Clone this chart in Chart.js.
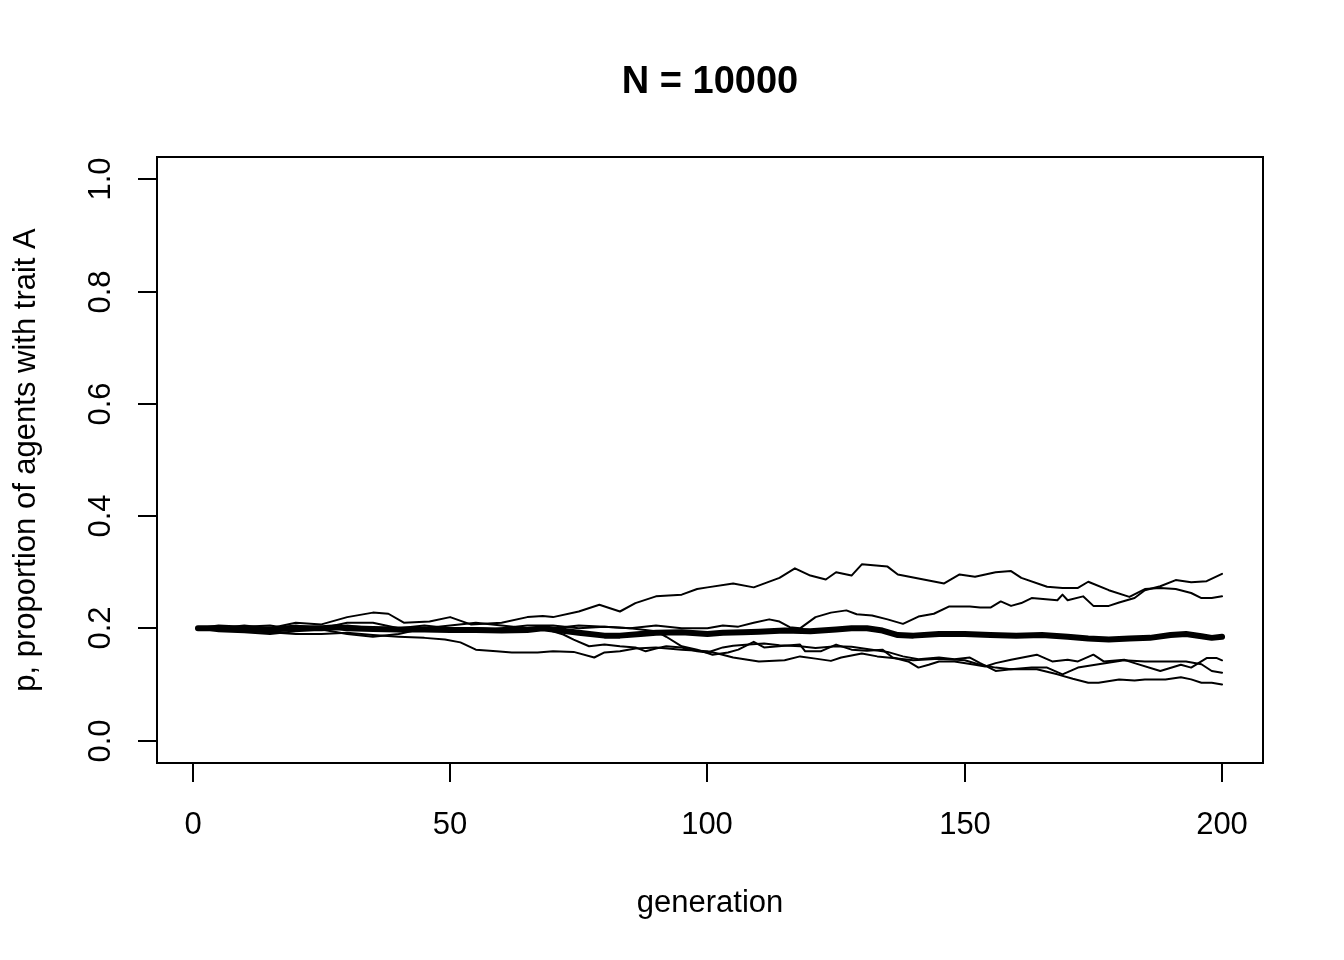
<!DOCTYPE html>
<html>
<head>
    <title>N = 10000</title>
    <style>
        body { margin: 0; background: white; }
        #chart { display: block; }
    </style>
</head>
<body>
    <canvas id="chart" width="1344" height="960"></canvas>

    <script src="https://cdn.jsdelivr.net/npm/chart.js"></script>
    <script>
        // values (generation, p)
        const gA = [1,5,10,15,20,25,30,35,38,41,46,50,54,60,65,68,70,75,79,83,86,90,95,98,100,105,109,114,117,120,123,125,128,130,135,137,141,146,149,152,156,159,161,166,169,172,174,178,182,185,188,191,194,196,198,200];
        const pA = [0.2,0.203,0.198,0.2,0.21,0.207,0.22,0.228,0.226,0.21,0.212,0.22,0.207,0.21,0.22,0.222,0.22,0.23,0.242,0.23,0.245,0.257,0.26,0.27,0.273,0.28,0.273,0.29,0.307,0.294,0.287,0.3,0.294,0.314,0.31,0.296,0.289,0.28,0.296,0.292,0.3,0.302,0.29,0.274,0.272,0.272,0.283,0.268,0.256,0.27,0.272,0.27,0.263,0.254,0.254,0.257];

        const gB = [1,5,10,15,20,25,30,35,40,45,50,55,60,65,70,75,80,85,90,95,100,103,106,109,112,114,116,118,121,124,127,129,132,135,138,141,144,147,151,153,155,157,159,161,163,168,169,170,173,175,178,180,183,185,188,191,194,197,200];
        const pB = [0.2,0.2,0.205,0.2,0.205,0.2,0.21,0.21,0.2,0.205,0.2,0.195,0.2,0.205,0.205,0.2,0.203,0.2,0.205,0.2,0.2,0.205,0.203,0.21,0.216,0.212,0.202,0.2,0.22,0.228,0.232,0.225,0.223,0.216,0.208,0.221,0.226,0.239,0.239,0.237,0.237,0.248,0.24,0.245,0.254,0.25,0.26,0.25,0.257,0.24,0.24,0.246,0.254,0.268,0.275,0.286,0.282,0.284,0.297];

        const gC = [1,5,10,15,20,25,30,35,40,45,50,55,60,65,70,75,80,85,90,92,95,98,101,104,106,109,111,115,118,119,122,125,128,131,134,136,139,141,143,145,148,152,154,156,159,164,167,170,172,175,177,181,183,188,192,194,197,199,200];
        const pC = [0.2,0.205,0.203,0.205,0.198,0.2,0.205,0.2,0.195,0.2,0.195,0.2,0.198,0.2,0.2,0.205,0.203,0.2,0.195,0.185,0.168,0.162,0.153,0.157,0.162,0.176,0.166,0.169,0.171,0.159,0.159,0.171,0.162,0.16,0.162,0.148,0.141,0.13,0.135,0.141,0.141,0.135,0.132,0.138,0.144,0.153,0.141,0.144,0.141,0.153,0.141,0.144,0.138,0.124,0.135,0.13,0.147,0.147,0.143];

        const gD = [1,5,10,15,20,25,30,35,40,45,50,55,60,65,68,72,74,77,80,83,86,88,90,92,95,98,100,103,105,108,111,114,118,121,125,128,131,135,138,141,145,148,151,153,156,159,163,166,169,172,176,181,185,189,193,196,198,200];
        const pD = [0.2,0.195,0.193,0.19,0.195,0.198,0.19,0.185,0.19,0.2,0.205,0.21,0.205,0.2,0.2,0.189,0.18,0.168,0.171,0.168,0.166,0.159,0.164,0.168,0.166,0.159,0.157,0.166,0.169,0.171,0.173,0.17,0.168,0.165,0.168,0.167,0.163,0.158,0.15,0.145,0.148,0.145,0.148,0.138,0.124,0.127,0.13,0.13,0.118,0.13,0.136,0.143,0.141,0.141,0.141,0.136,0.124,0.121];

        const gE = [1,5,10,15,20,25,30,35,40,45,49,52,55,59,62,67,70,74,78,80,83,86,90,95,100,102,105,110,115,118,121,124,126,130,133,136,140,145,150,153,156,159,164,168,171,174,176,180,183,185,189,192,194,196,198,200];
        const pE = [0.2,0.2,0.195,0.193,0.19,0.19,0.192,0.188,0.185,0.183,0.18,0.175,0.162,0.159,0.157,0.157,0.159,0.158,0.148,0.157,0.159,0.164,0.166,0.162,0.159,0.155,0.148,0.141,0.143,0.15,0.146,0.142,0.148,0.155,0.15,0.147,0.143,0.146,0.143,0.135,0.13,0.127,0.127,0.118,0.11,0.103,0.103,0.109,0.107,0.109,0.109,0.113,0.109,0.103,0.103,0.1];

        // thick line: mean over runs
        const gMean = [1,5,10,15,20,25,28,30,35,40,45,50,55,60,65,68,70,75,80,83,87,90,95,100,103,107,110,115,120,125,128,131,134,137,140,145,150,155,160,165,170,174,178,182,186,190,193,196,198,200];
        const pMean = [0.2,0.2,0.198,0.198,0.2,0.2,0.202,0.2,0.199,0.198,0.198,0.197,0.197,0.196,0.197,0.2,0.198,0.192,0.187,0.187,0.19,0.192,0.193,0.19,0.192,0.193,0.194,0.196,0.195,0.198,0.2,0.2,0.196,0.188,0.187,0.19,0.19,0.188,0.187,0.188,0.185,0.182,0.18,0.182,0.183,0.188,0.19,0.186,0.183,0.185];

        const xTicks = [0, 50, 100, 150, 200];
        const yTicks = [0, 0.2, 0.4, 0.6, 0.8, 1.0];
        const titleText = 'N = 10000';
        const xLabel = 'generation';
        const yLabel = 'p, proportion of agents with trait A';

        function pts(g, p) { return g.map((x, i) => ({ x: x, y: p[i] })); }

        function run(g, p, width) {
            return {
                data: pts(g, p),
                borderColor: '#000',
                borderWidth: width,
                borderCapStyle: 'round',
                borderJoinStyle: 'round',
                pointRadius: 0,
                tension: 0,
                fill: false
            };
        }

        // R style box, axes, labels and title
        const rFrame = {
            id: 'rFrame',
            afterDraw(chart) {
                const ctx = chart.ctx;
                const a = chart.chartArea;
                const xs = chart.scales.x, ys = chart.scales.y;
                const font = '31px "Liberation Sans", Arial, sans-serif';
                ctx.save();
                ctx.strokeStyle = '#000';
                ctx.fillStyle = '#000';
                ctx.lineWidth = 2;
                ctx.strokeRect(a.left, a.top, a.right - a.left, a.bottom - a.top);

                ctx.font = font;
                ctx.textAlign = 'center';
                ctx.textBaseline = 'alphabetic';
                xTicks.forEach(t => {
                    const px = Math.round(xs.getPixelForValue(t));
                    ctx.beginPath();
                    ctx.moveTo(px, a.bottom);
                    ctx.lineTo(px, a.bottom + 19);
                    ctx.stroke();
                    ctx.fillText(String(t), px, 834);
                });
                ctx.beginPath();
                ctx.moveTo(xs.getPixelForValue(xTicks[0]), a.bottom);
                ctx.lineTo(xs.getPixelForValue(xTicks[xTicks.length - 1]), a.bottom);
                ctx.stroke();

                yTicks.forEach(t => {
                    const py = Math.round(ys.getPixelForValue(t));
                    ctx.beginPath();
                    ctx.moveTo(a.left, py);
                    ctx.lineTo(a.left - 19, py);
                    ctx.stroke();
                    ctx.save();
                    ctx.translate(110, py);
                    ctx.rotate(-Math.PI / 2);
                    ctx.fillText(t.toFixed(1), 0, 0);
                    ctx.restore();
                });

                const cx = (a.left + a.right) / 2;
                const cy = (a.top + a.bottom) / 2;
                ctx.fillText(xLabel, cx, 912);
                ctx.save();
                ctx.translate(35, cy);
                ctx.rotate(-Math.PI / 2);
                ctx.fillText(yLabel, 0, 0);
                ctx.restore();

                ctx.font = 'bold 38px "Liberation Sans", Arial, sans-serif';
                ctx.fillText(titleText, cx, 93);
                ctx.restore();
            }
        };

        new Chart(document.getElementById('chart'), {
            type: 'line',
            data: {
                datasets: [
                    run(gMean, pMean, 6),
                    run(gA, pA, 2),
                    run(gB, pB, 2),
                    run(gC, pC, 2),
                    run(gD, pD, 2),
                    run(gE, pE, 2)
                ]
            },
            options: {
                responsive: false,
                devicePixelRatio: 1,
                animation: false,
                layout: { padding: { left: 157, right: 81, top: 157, bottom: 197 } },
                plugins: { legend: { display: false }, tooltip: { enabled: false }, title: { display: false } },
                scales: {
                    x: { type: 'linear', min: -6.96, max: 207.96, display: false },
                    y: { type: 'linear', min: -0.04, max: 1.04, display: false }
                }
            },
            plugins: [rFrame]
        });
    </script>
</body>
</html>
